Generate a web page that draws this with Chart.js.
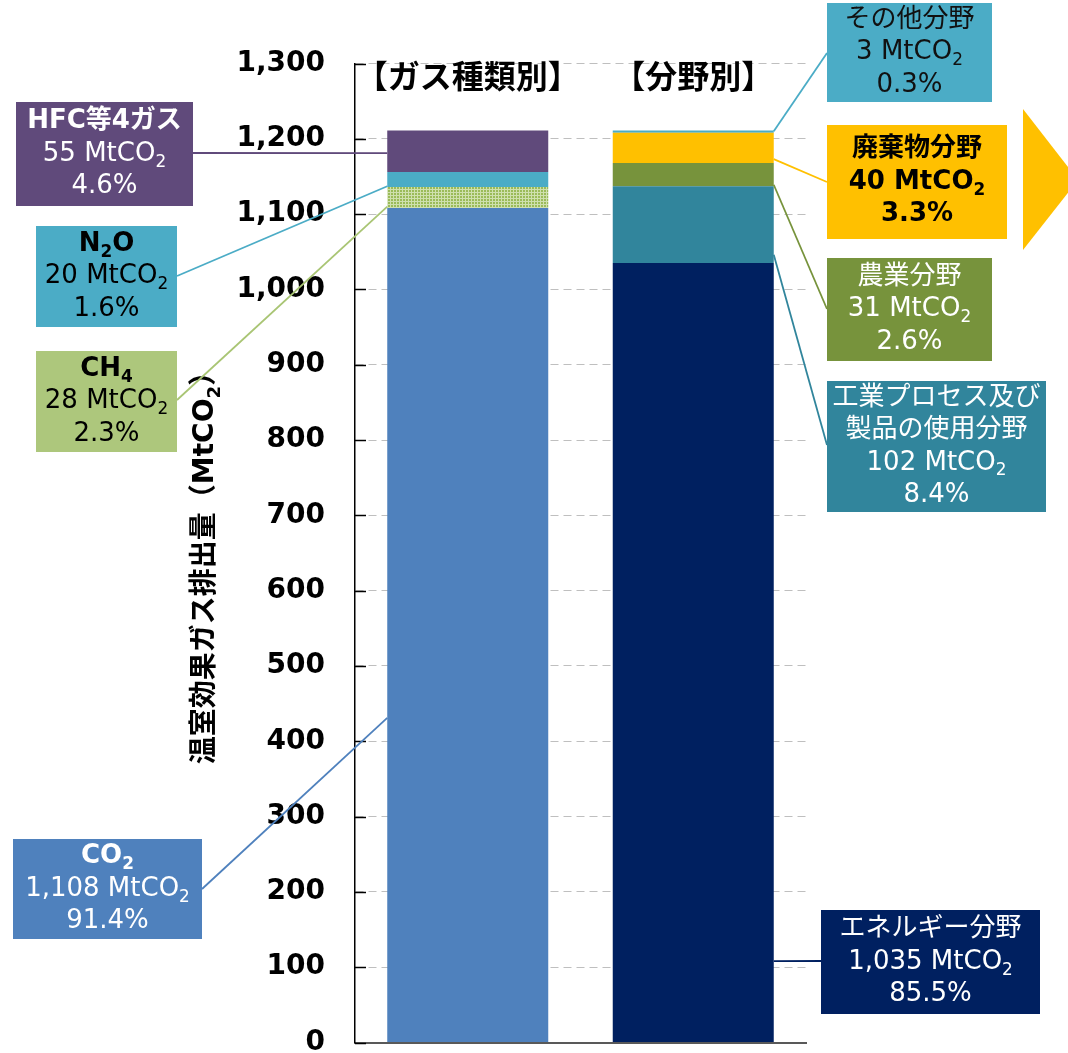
<!DOCTYPE html>
<html lang="ja">
<head>
<meta charset="utf-8">
<title>温室効果ガス排出量</title>
<script src="https://cdn.jsdelivr.net/npm/chart.js@4.4.1/dist/chart.umd.min.js"></script>
<style>
  html, body { margin: 0; padding: 0; background: #fff; overflow: hidden; }
  #chart { display: block; }
</style>
</head>
<body>
<canvas id="chart" width="1068" height="1053"></canvas>
<script>
// ================= DATA =================
const categories = ['【ガス種類別】', '【分野別】'];

const gasNames = ['CO₂', 'CH₄', 'N₂O', 'HFC等4ガス'];
const gasValues = [1108, 28, 20, 55];
const gasShares = ['91.4%', '2.3%', '1.6%', '4.6%'];

const sectorNames = ['エネルギー分野', '工業プロセス及び\n製品の使用分野', '農業分野', '廃棄物分野', 'その他分野'];
const sectorValues = [1035, 102, 31, 40, 3];
const sectorShares = ['85.5%', '8.4%', '2.6%', '3.3%', '0.3%'];

const yMin = 0;
const yMax = 1300;
const yStep = 100;
const yTitle = '温室効果ガス排出量（MtCO₂）';
const unit = 'MtCO₂';

// ================= STYLE / LAYOUT =================
const FONT = '"DejaVu Sans", "Noto Sans CJK JP", sans-serif';

const gasColors = ['#4F81BD', 'mesh', '#4BACC6', '#604A7B'];
const sectorColors = ['#002060', '#31859C', '#77933C', '#FFC000', '#4BACC6'];

// box: [x, y, w, h], from: leader start on the box, at: value where the leader meets the bar
const gasCallouts = [
    { box: [13, 839, 189, 100], from: [202, 889], at: 431, text: '#fff', fill: '#4F81BD', line: '#4F81BD' },
    { box: [36, 351, 141, 101], from: [177, 400], at: 1110, text: '#000', fill: '#ADC77C', line: '#A9C574' },
    { box: [36, 226, 141, 101], from: [177, 276], at: 1137, text: '#000', fill: '#4BACC6', line: '#4BACC6' },
    { box: [16, 102, 177, 104], from: [193, 153], at: 1181, text: '#fff', fill: '#604A7B', line: '#604A7B' }
];
const sectorCallouts = [
    { box: [821, 910, 219, 104], from: [821, 961], at: 108, text: '#fff', fill: '#002060', line: '#002060' },
    { box: [827, 381, 219, 131], from: [827, 445], at: 1046, text: '#fff', fill: '#31859C', line: '#31859C' },
    { box: [827, 258, 165, 103], from: [827, 309], at: 1139, text: '#fff', fill: '#77933C', line: '#77933C' },
    { box: [827, 125, 180, 114], from: [827, 182], at: 1173, text: '#000', fill: '#FFC000', line: '#FFC000', bold: true },
    { box: [827, 3, 165, 99], from: [827, 53], at: 1210, text: '#111', fill: '#4BACC6', line: '#4BACC6' }
];

const canvas = document.getElementById('chart');
const ctx = canvas.getContext('2d');

function meshPattern() {
    const c = document.createElement('canvas');
    c.width = 3;
    c.height = 3;
    const g = c.getContext('2d');
    g.fillStyle = '#9BBB59';
    g.fillRect(0, 0, 3, 3);
    g.fillStyle = '#CFE0AE';
    g.fillRect(0, 0, 3, 1);
    g.fillRect(0, 0, 1, 3);
    return ctx.createPattern(c, 'repeat');
}

function fmt(v) {
    return v.toLocaleString('en-US');
}

// ================= RICH TEXT (subscripts) =================
function segs(str) {
    const out = [];
    let cur = '';
    for (const ch of str) {
        if (ch === '₂' || ch === '₄') {
            if (cur) out.push({ t: cur, sub: false });
            out.push({ t: ch === '₂' ? '2' : '4', sub: true });
            cur = '';
        } else {
            cur += ch;
        }
    }
    if (cur) out.push({ t: cur, sub: false });
    return out;
}

function drawRich(c, str, cx, cy, size, weight, color) {
    const parts = segs(str);
    const font = s => `${weight} ${s}px ${FONT}`;
    let w = 0;
    parts.forEach(p => {
        c.font = font(p.sub ? size * 0.65 : size);
        p.w = c.measureText(p.t).width;
        w += p.w;
    });
    let x = cx - w / 2;
    c.fillStyle = color;
    c.textBaseline = 'middle';
    c.textAlign = 'left';
    parts.forEach(p => {
        c.font = font(p.sub ? size * 0.65 : size);
        c.fillText(p.t, x, p.sub ? cy + size * 0.32 : cy);
        x += p.w;
    });
}

// ================= DATASETS =================
const datasets = [];
gasValues.forEach((v, i) => {
    datasets.push({
        label: gasNames[i],
        data: [v, null],
        backgroundColor: gasColors[i] === 'mesh' ? meshPattern() : gasColors[i],
        borderWidth: 0
    });
});
sectorValues.forEach((v, i) => {
    datasets.push({
        label: sectorNames[i],
        data: [null, v],
        backgroundColor: sectorColors[i],
        borderWidth: 0
    });
});

// ================= ANNOTATIONS =================
const annotations = {
    id: 'annotations',
    afterDatasetsDraw(chart) {
        const c = chart.ctx;
        const ys = chart.scales.y;
        const xs = chart.scales.x;
        const area = chart.chartArea;

        // inner tick marks
        c.save();
        c.strokeStyle = '#000';
        c.lineWidth = 1.5;
        for (let v = yMin; v <= yMax; v += yStep) {
            const y = Math.round(ys.getPixelForValue(v)) + 0.5;
            c.beginPath();
            c.moveTo(area.left, y);
            c.lineTo(area.left + 11, y);
            c.stroke();
        }
        c.restore();

        // category headings
        categories.forEach((cat, i) => {
            c.save();
            c.fillStyle = '#000';
            c.font = `bold 32px "Noto Sans CJK JP", sans-serif`;
            c.textAlign = 'center';
            c.textBaseline = 'middle';
            c.fillText(cat, xs.getPixelForValue(i), 76);
            c.restore();
        });

        // y axis title
        c.save();
        c.translate(206, 561);
        c.rotate(-Math.PI / 2);
        drawRich(c, yTitle, 0, 0, 28, 'bold', '#000');
        c.restore();

        const gasBar = chart.getDatasetMeta(0).data[0];
        const secBar = chart.getDatasetMeta(gasValues.length).data[1];
        const gasLeft = gasBar.x - gasBar.width / 2;
        const secRight = secBar.x + secBar.width / 2;

        function callout(cfg, lines, boldFirst, barX) {
            const [bx, by, bw, bh] = cfg.box;
            c.save();
            c.strokeStyle = cfg.line;
            c.lineWidth = 1.8;
            c.beginPath();
            c.moveTo(cfg.from[0], cfg.from[1]);
            c.lineTo(barX, ys.getPixelForValue(cfg.at));
            c.stroke();
            c.fillStyle = cfg.fill;
            c.fillRect(bx, by, bw, bh);
            const cx = bx + bw / 2;
            const cy = by + bh / 2;
            const lh = 32.5;
            lines.forEach((ln, k) => {
                const weight = (cfg.bold || (boldFirst && k === 0)) ? 'bold' : 'normal';
                drawRich(c, ln, cx, cy + (k - (lines.length - 1) / 2) * lh, 26, weight, cfg.text);
            });
            c.restore();
        }

        gasCallouts.forEach((cfg, i) => {
            callout(cfg, [gasNames[i], fmt(gasValues[i]) + ' ' + unit, gasShares[i]], true, gasLeft);
        });
        sectorCallouts.forEach((cfg, i) => {
            const lines = sectorNames[i].split('\n').concat([fmt(sectorValues[i]) + ' ' + unit, sectorShares[i]]);
            callout(cfg, lines, false, secRight);
        });

        // arrow
        c.save();
        c.fillStyle = '#FFC000';
        c.beginPath();
        c.moveTo(1023, 109);
        c.lineTo(1078, 180);
        c.lineTo(1023, 250);
        c.closePath();
        c.fill();
        c.restore();
    }
};

// ================= CHART =================
new Chart(canvas, {
    type: 'bar',
    data: {
        labels: categories,
        datasets: datasets
    },
    options: {
        responsive: false,
        animation: false,
        devicePixelRatio: 1,
        layout: { padding: { top: 63.5, right: 262, bottom: 10.5, left: 0 } },
        plugins: {
            legend: { display: false },
            tooltip: { enabled: false }
        },
        datasets: {
            bar: { categoryPercentage: 1, barPercentage: 0.714 }
        },
        scales: {
            x: {
                stacked: true,
                grid: { display: false, drawTicks: false },
                ticks: { display: false },
                border: { display: true, color: '#595959', width: 2 },
                afterFit(scale) { scale.height = 0; }
            },
            y: {
                stacked: true,
                min: yMin,
                max: yMax,
                ticks: {
                    stepSize: yStep,
                    color: '#000',
                    padding: 30,
                    font: { family: FONT, size: 28, weight: 'bold' },
                    callback: v => fmt(v)
                },
                grid: { color: '#BFBFBF', lineWidth: 1, drawTicks: false },
                border: { display: true, color: '#000', width: 1.5, dash: [8, 5] },
                afterFit(scale) {
                    scale.width = 355;
                    scale.paddingTop = 0;
                    scale.paddingBottom = 0;
                }
            }
        }
    },
    plugins: [annotations]
});
</script>
</body>
</html>
